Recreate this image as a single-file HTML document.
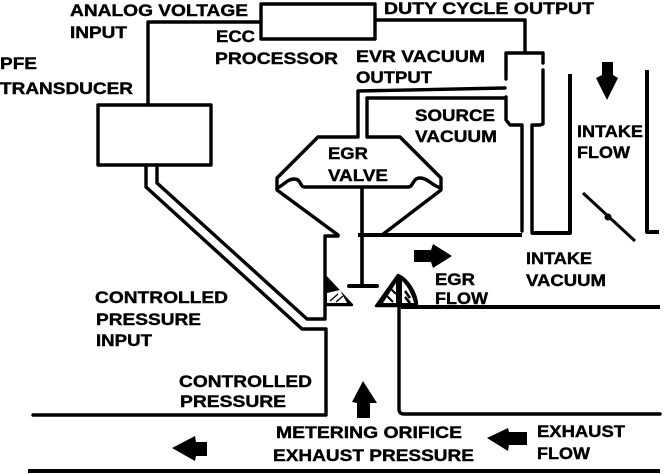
<!DOCTYPE html>
<html>
<head>
<meta charset="utf-8">
<style>
html,body{margin:0;padding:0;background:#fff;width:672px;height:474px;overflow:hidden}
svg{display:block}
text{font-family:"Liberation Sans",sans-serif;font-weight:bold;font-size:16.5px;fill:#000;stroke:#000;stroke-width:.4px}
.l{fill:none;stroke:#000;stroke-width:3.4;stroke-linejoin:round;stroke-linecap:round}
.t{fill:none;stroke:#000;stroke-width:4;stroke-linejoin:round;stroke-linecap:butt}
</style>
</head>
<body>
<svg width="672" height="474" viewBox="0 0 672 474" xmlns="http://www.w3.org/2000/svg">
<!-- ECC box and signal lines -->
<path class="l" d="M261 4H375V39H261Z"/>
<path class="l" d="M260 22H148V105"/>
<path class="l" d="M375 20H525V52"/>
<!-- PFE transducer -->
<path class="l" d="M98 105H211V165H98Z"/>
<path class="l" d="M146 165V187L302 329H326V415H33"/>
<path class="l" d="M157 165V183L307 319H325V236H338"/>
<!-- EVR solenoid -->
<path class="l" d="M506 79V53H543V63M543 70V124L540 125H532V233M506 97V120L510 125H522V231"/>
<path class="l" d="M505 88L358 91V137"/>
<path class="l" d="M505 98H367V137"/>
<!-- EGR valve -->
<path class="l" d="M356 137H318L277 178V190L338 235"/>
<path class="l" d="M368 137H400L441 178V190L382 235"/>
<path class="l" d="M277 188C283 186 287 179 294 179C302 179 299 187 305 187H408C414 187 412 178 420 178C428 178 432 186 441 188"/>
<!-- Valve stem -->
<path d="M362 187V286" stroke="#000" stroke-width="3.6" fill="none"/>
<path d="M349 286H377" stroke="#000" stroke-width="4" stroke-linecap="round" fill="none"/>
<!-- Main passages -->
<path class="t" d="M358 235H522M532 233H570V74M647 70V232H659"/>
<path class="t" d="M401 307H660"/>
<path class="l" d="M399 307V409Q399 414 404 414H660"/>
<path class="t" d="M28 471H660"/>
<!-- Throttle plate -->
<path d="M583 193L635 241" stroke="#000" stroke-width="3" fill="none"/>
<circle cx="608" cy="217" r="3.5" fill="#000"/>
<!-- Orifice left -->
<path d="M325 276L352 305H325Z" fill="#000" stroke="#000" stroke-width="2.5" stroke-linejoin="round"/>
<path d="M327 293L340 290L347 303H327Z" fill="#fff"/>
<path d="M330 301L338 294M336 302L343 296" stroke="#000" stroke-width="1.3"/>
<!-- Orifice right -->
<path d="M398 275L376 306H417C417 294 408 279 398 275Z" fill="#000" stroke="#000" stroke-width="2.5" stroke-linejoin="round"/>
<path d="M383 303L396 283V303Z" fill="#fff"/>
<path d="M402 281C407 285 412 295 414 303H402Z" fill="#fff"/>
<path d="M405 291L410 298M405 297L410 303" stroke="#000" stroke-width="2.6"/>
<path d="M386 295L393 302M391 289L396 294" stroke="#000" stroke-width="2"/>
<!-- Arrows -->
<path d="M602 62H613V75L618 78L607 100L596 78L602 75Z" fill="#000"/>
<path d="M414 250H431L433 244L452 256L433 268L431 262H414Z" fill="#000"/>
<path d="M357 418V403L352 402L363 381L377 403L370 403V418Z" fill="#000"/>
<path d="M207 442H196L195 436L172 448L195 461L196 456H207Z" fill="#000"/>
<path d="M527 432H509L508 428L487 438L508 451L509 445H527Z" fill="#000"/>
<!-- Labels -->
<text x="70" y="16" textLength="178" lengthAdjust="spacingAndGlyphs">ANALOG VOLTAGE</text>
<text x="70" y="38" textLength="57" lengthAdjust="spacingAndGlyphs">INPUT</text>
<text x="216" y="42" textLength="39" lengthAdjust="spacingAndGlyphs">ECC</text>
<text x="215" y="64" textLength="123" lengthAdjust="spacingAndGlyphs">PROCESSOR</text>
<text x="384" y="14" textLength="210" lengthAdjust="spacingAndGlyphs">DUTY CYCLE OUTPUT</text>
<text x="356" y="62" textLength="129" lengthAdjust="spacingAndGlyphs">EVR VACUUM</text>
<text x="356" y="83" textLength="76" lengthAdjust="spacingAndGlyphs">OUTPUT</text>
<text x="415" y="121" textLength="80" lengthAdjust="spacingAndGlyphs">SOURCE</text>
<text x="415" y="142" textLength="82" lengthAdjust="spacingAndGlyphs">VACUUM</text>
<text x="328" y="159" textLength="40" lengthAdjust="spacingAndGlyphs">EGR</text>
<text x="328" y="181" textLength="60" lengthAdjust="spacingAndGlyphs">VALVE</text>
<text x="577" y="137" textLength="66" lengthAdjust="spacingAndGlyphs">INTAKE</text>
<text x="577" y="158" textLength="53" lengthAdjust="spacingAndGlyphs">FLOW</text>
<text x="526" y="264" textLength="66" lengthAdjust="spacingAndGlyphs">INTAKE</text>
<text x="526" y="286" textLength="80" lengthAdjust="spacingAndGlyphs">VACUUM</text>
<text x="435" y="285" textLength="40" lengthAdjust="spacingAndGlyphs">EGR</text>
<text x="435" y="304" textLength="53" lengthAdjust="spacingAndGlyphs">FLOW</text>
<text x="0" y="69" textLength="37" lengthAdjust="spacingAndGlyphs">PFE</text>
<text x="0" y="94" textLength="133" lengthAdjust="spacingAndGlyphs">TRANSDUCER</text>
<text x="95" y="303" textLength="133" lengthAdjust="spacingAndGlyphs">CONTROLLED</text>
<text x="96" y="325" textLength="105" lengthAdjust="spacingAndGlyphs">PRESSURE</text>
<text x="96" y="346" textLength="56" lengthAdjust="spacingAndGlyphs">INPUT</text>
<text x="179" y="387" textLength="133" lengthAdjust="spacingAndGlyphs">CONTROLLED</text>
<text x="180" y="407" textLength="106" lengthAdjust="spacingAndGlyphs">PRESSURE</text>
<text x="276" y="438" textLength="186" lengthAdjust="spacingAndGlyphs">METERING ORIFICE</text>
<text x="273" y="461" textLength="201" lengthAdjust="spacingAndGlyphs">EXHAUST PRESSURE</text>
<text x="537" y="437" textLength="88" lengthAdjust="spacingAndGlyphs">EXHAUST</text>
<text x="537" y="459" textLength="53" lengthAdjust="spacingAndGlyphs">FLOW</text>
</svg>
</body>
</html>
